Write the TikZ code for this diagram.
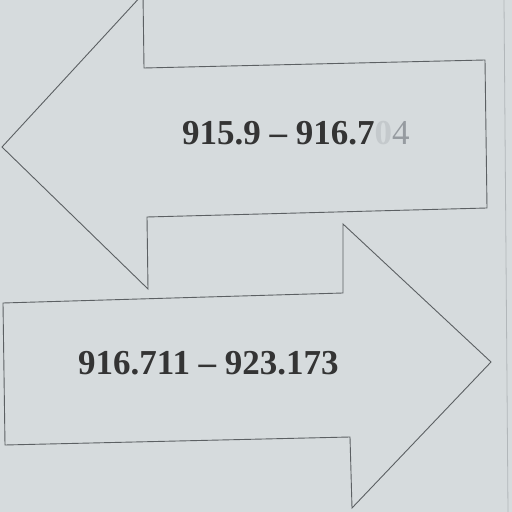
\documentclass[tikz,border=0pt]{standalone}
\usepackage{fontspec}
\setmainfont{Liberation Serif}
\usepackage[usenames]{xcolor}
\usepackage{tikz}
\usetikzlibrary{arrows}

\definecolor{papercol}{RGB}{214,219,221}
\definecolor{edgecol}{RGB}{92,96,99}
\definecolor{inkcol}{RGB}{52,52,52}
\definecolor{ghostcol}{RGB}{196,201,204}
\definecolor{pencilcol}{RGB}{150,155,160}
\definecolor{foldcol}{RGB}{178,183,186}

\begin{document}
\begin{tikzpicture}[line join=miter,
  outline/.style={draw=edgecol,line width=0.9bp},
  rangelab/.style={anchor=base west,inner sep=0pt,text=inkcol,font=\fontsize{35bp}{40bp}\selectfont\bfseries}]
%%
\useasboundingbox (0bp,0bp) rectangle (512bp,512bp);
\fill [papercol] (0bp,0bp) rectangle (512bp,512bp);
\clip (0bp,0bp) rectangle (512bp,512bp);
\draw [foldcol,line width=0.8bp] (504bp,512bp) -- (508bp,0bp);
%% arrow to the left
\begin{scope}
  \draw [outline] (2bp,365bp) -- (143bp,518bp) -- (144bp,444bp) -- (485bp,452bp)
    -- (487bp,304bp) -- (147bp,295bp) -- (148bp,223bp) -- cycle;
\end{scope}
%% arrow to the right
\begin{scope}
  \draw [outline] (3bp,209bp) -- (343bp,219bp) -- (343bp,288bp) -- (491bp,150bp)
    -- (352bp,4bp) -- (350bp,75bp) -- (5bp,67bp) -- cycle;
\end{scope}
  \node (leftrange) at (182bp,367bp) [rangelab] {915.9 -- 916.7\textcolor{ghostcol}{0}\textcolor{pencilcol}{\mdseries 4}};
  \node (rightrange) at (78bp,137bp) [rangelab] {916.711 -- 923.173};
%
\end{tikzpicture}
\end{document}
